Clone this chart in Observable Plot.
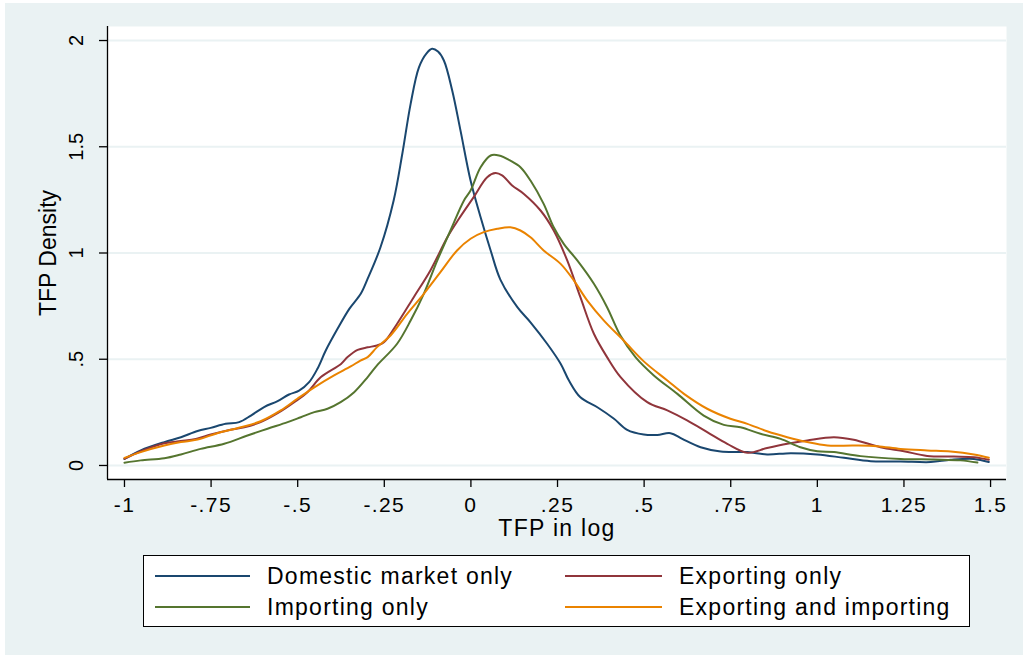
<!DOCTYPE html>
<html>
<head>
<meta charset="utf-8">
<script src="https://cdn.jsdelivr.net/npm/d3@7"></script>
<script src="https://cdn.jsdelivr.net/npm/@observablehq/plot@0.6"></script>
<style>
  html, body { margin: 0; padding: 0; background: #ffffff; }
  #page { position: relative; width: 1023px; height: 655px; overflow: hidden;
          font-family: "Liberation Sans", Arial, sans-serif; }
  #bg { position: absolute; left: 5px; top: 3px; right: 0; bottom: 0; background: #eaf2f3; }
  #chart { position: absolute; left: 0; top: 0; }
  #chart [aria-label="x-axis tick label"] { letter-spacing: 1.4px; }
  #legend { position: absolute; left: 143px; top: 555px; width: 825px; height: 70px;
            background: #ffffff; border: 1px solid #000000; }
  .item { position: absolute; height: 30px; display: flex; align-items: center;
          font-size: 23px; letter-spacing: 1.25px; color: #000000; white-space: nowrap; }
  .swatch { display: inline-block; height: 2px; margin-right: 17px; }
</style>
</head>
<body>
<div id="page">
  <div id="bg"></div>
  <div id="chart"></div>
  <div id="legend"></div>
</div>
<script>
// Kernel density estimates of log TFP by firm trade status
const seriesNames = ["Domestic market only", "Exporting only", "Importing only", "Exporting and importing"];
const seriesColors = ["#1a476f", "#90353b", "#55752f", "#ea8300"];

const domesticX = [-1.0, -0.953, -0.885, -0.837, -0.789, -0.751, -0.708, -0.669, -0.635, -0.597, -0.558, -0.525, -0.496, -0.467, -0.443, -0.419, -0.385, -0.351, -0.318, -0.298, -0.261, -0.223, -0.198, -0.174, -0.150, -0.128, -0.112, -0.095, -0.078, -0.054, -0.030, -0.001, 0.028, 0.057, 0.085, 0.134, 0.172, 0.220, 0.259, 0.283, 0.316, 0.365, 0.413, 0.451, 0.499, 0.538, 0.576, 0.610, 0.663, 0.721, 0.798, 0.855, 0.923, 1.0, 1.077, 1.154, 1.24, 1.327, 1.385, 1.452, 1.495];
const domesticY = [0.031, 0.071, 0.110, 0.133, 0.162, 0.177, 0.196, 0.204, 0.235, 0.275, 0.303, 0.334, 0.352, 0.392, 0.455, 0.541, 0.643, 0.737, 0.808, 0.879, 1.027, 1.247, 1.467, 1.702, 1.874, 1.940, 1.961, 1.948, 1.906, 1.765, 1.576, 1.341, 1.168, 1.012, 0.875, 0.745, 0.674, 0.573, 0.479, 0.400, 0.321, 0.274, 0.220, 0.168, 0.146, 0.144, 0.152, 0.125, 0.086, 0.066, 0.063, 0.052, 0.058, 0.052, 0.036, 0.020, 0.019, 0.016, 0.027, 0.031, 0.016];

const exportX = [-1.0, -0.953, -0.885, -0.837, -0.794, -0.751, -0.703, -0.654, -0.607, -0.558, -0.510, -0.472, -0.433, -0.375, -0.356, -0.327, -0.298, -0.271, -0.251, -0.213, -0.165, -0.117, -0.068, -0.035, 0.008, 0.047, 0.071, 0.090, 0.119, 0.153, 0.201, 0.239, 0.278, 0.316, 0.355, 0.393, 0.432, 0.509, 0.567, 0.624, 0.682, 0.740, 0.798, 0.855, 0.913, 0.971, 1.048, 1.105, 1.182, 1.25, 1.317, 1.394, 1.452, 1.495];
const exportY = [0.031, 0.067, 0.105, 0.115, 0.125, 0.146, 0.165, 0.180, 0.204, 0.246, 0.298, 0.345, 0.416, 0.478, 0.510, 0.544, 0.556, 0.565, 0.580, 0.667, 0.792, 0.918, 1.074, 1.160, 1.263, 1.357, 1.376, 1.365, 1.318, 1.278, 1.200, 1.106, 0.965, 0.792, 0.620, 0.510, 0.416, 0.298, 0.259, 0.212, 0.157, 0.102, 0.060, 0.082, 0.102, 0.118, 0.133, 0.121, 0.086, 0.067, 0.045, 0.042, 0.039, 0.027];

const importX = [-1.0, -0.953, -0.885, -0.837, -0.780, -0.712, -0.645, -0.587, -0.529, -0.491, -0.452, -0.414, -0.376, -0.337, -0.298, -0.271, -0.213, -0.174, -0.136, -0.097, -0.059, -0.020, -0.001, 0.028, 0.057, 0.081, 0.114, 0.143, 0.172, 0.210, 0.239, 0.268, 0.307, 0.355, 0.393, 0.432, 0.475, 0.528, 0.596, 0.672, 0.730, 0.778, 0.836, 0.894, 0.951, 1.0, 1.048, 1.125, 1.24, 1.336, 1.413, 1.462];
const importY = [0.013, 0.024, 0.034, 0.052, 0.078, 0.102, 0.141, 0.173, 0.204, 0.227, 0.251, 0.267, 0.298, 0.345, 0.416, 0.471, 0.573, 0.682, 0.808, 0.965, 1.106, 1.247, 1.294, 1.404, 1.459, 1.459, 1.435, 1.404, 1.341, 1.231, 1.121, 1.043, 0.965, 0.855, 0.745, 0.610, 0.510, 0.424, 0.337, 0.235, 0.191, 0.180, 0.149, 0.125, 0.086, 0.067, 0.063, 0.044, 0.031, 0.028, 0.024, 0.014];

const bothX = [-1.0, -0.953, -0.885, -0.837, -0.789, -0.732, -0.664, -0.607, -0.549, -0.501, -0.452, -0.395, -0.347, -0.319, -0.298, -0.271, -0.232, -0.184, -0.136, -0.088, -0.040, -0.001, 0.037, 0.076, 0.114, 0.143, 0.172, 0.210, 0.259, 0.297, 0.336, 0.384, 0.441, 0.499, 0.567, 0.615, 0.682, 0.749, 0.798, 0.855, 0.913, 0.971, 1.029, 1.105, 1.173, 1.24, 1.317, 1.385, 1.452, 1.495];
const bothY = [0.036, 0.063, 0.094, 0.110, 0.122, 0.152, 0.180, 0.208, 0.259, 0.314, 0.368, 0.424, 0.466, 0.494, 0.510, 0.557, 0.612, 0.714, 0.808, 0.910, 1.012, 1.067, 1.098, 1.114, 1.121, 1.106, 1.074, 1.012, 0.949, 0.871, 0.776, 0.682, 0.588, 0.490, 0.400, 0.337, 0.267, 0.220, 0.196, 0.161, 0.133, 0.110, 0.094, 0.094, 0.091, 0.078, 0.071, 0.066, 0.052, 0.036];

const xTicks = [-1, -0.75, -0.5, -0.25, 0, 0.25, 0.5, 0.75, 1, 1.25, 1.5];
const xTickLabels = ["-1", "-.75", "-.5", "-.25", "0", ".25", ".5", ".75", "1", "1.25", "1.5"];
const yTicks = [0, 0.5, 1, 1.5, 2];
const yTickLabels = ["0", ".5", "1", "1.5", "2"];
const xTitle = "TFP in log";
const yTitle = "TFP Density";

const xDomain = [-1.049, 1.546];
const yDomain = [-0.066, 2.066];

// Long table: one row per (series, x, y)
const seriesXs = [domesticX, exportX, importX, bothX];
const seriesYs = [domesticY, exportY, importY, bothY];
const rows = seriesNames.flatMap((name, s) =>
  seriesXs[s].map((x, i) => ({series: name, x, y: seriesYs[s][i]})));

const yLabelRows = yTicks.map((v, i) => ({v, label: yTickLabels[i]}));

const chart = Plot.plot({
  width: 1023,
  height: 540,
  marginLeft: 107,
  marginRight: 17,
  marginTop: 26,
  marginBottom: 61,
  x: {domain: xDomain},
  y: {domain: yDomain},
  color: {domain: seriesNames, range: seriesColors},
  style: {background: "transparent", color: "black", fontFamily: "'Liberation Sans', Arial, sans-serif", overflow: "visible"},
  marks: [
    Plot.frame({fill: "white", stroke: "none"}),
    Plot.gridY(yTicks, {stroke: "#eaf2f3", strokeOpacity: 1, strokeWidth: 2}),
    Plot.line(rows, {x: "x", y: "y", z: "series", stroke: "series", strokeWidth: 2, curve: "catmull-rom"}),
    Plot.ruleX([xDomain[0]], {stroke: "black", strokeWidth: 1.3}),
    Plot.ruleY([yDomain[0]], {stroke: "black", strokeWidth: 1.3}),
    Plot.axisX(xTicks, {
      tickSize: 8, tickPadding: 10, fontSize: 21, strokeWidth: 1.3, label: null,
      tickFormat: d => xTickLabels[xTicks.indexOf(d)]
    }),
    Plot.axisY(yTicks, {tickSize: 8, strokeWidth: 1.3, label: null, tickFormat: () => ""}),
    Plot.text(yLabelRows, {
      y: "v", text: "label", frameAnchor: "left", dx: -31, rotate: -90,
      fontSize: 20, textAnchor: "middle", lineAnchor: "middle", fill: "black"
    }),
    Plot.text([xTitle], {
      text: d => d, frameAnchor: "bottom", dy: 49, fontSize: 23,
      textAnchor: "middle", lineAnchor: "middle", fill: "black"
    }),
    Plot.text([yTitle], {
      text: d => d, frameAnchor: "left", dx: -59, rotate: -90, fontSize: 23,
      textAnchor: "middle", lineAnchor: "middle", fill: "black"
    })
  ]
});
document.getElementById("chart").appendChild(chart);

// Slightly wider tracking on the x-axis title
d3.select(chart).selectAll("text")
  .filter(function () { return this.textContent === xTitle; })
  .style("letter-spacing", "1.3px");

// Two-column legend box below the plot
const legend = document.getElementById("legend");
const itemPos = [
  {left: 11, top: 5, w: 95},
  {left: 421, top: 5, w: 97},
  {left: 11, top: 36, w: 95},
  {left: 421, top: 36, w: 97}
];
seriesNames.forEach((name, k) => {
  const p = itemPos[k];
  const item = document.createElement("div");
  item.className = "item";
  item.style.left = p.left + "px";
  item.style.top = p.top + "px";
  const sw = document.createElement("span");
  sw.className = "swatch";
  sw.style.width = p.w + "px";
  sw.style.background = seriesColors[k];
  const label = document.createElement("span");
  label.textContent = name;
  item.appendChild(sw);
  item.appendChild(label);
  legend.appendChild(item);
});
</script>
</body>
</html>
